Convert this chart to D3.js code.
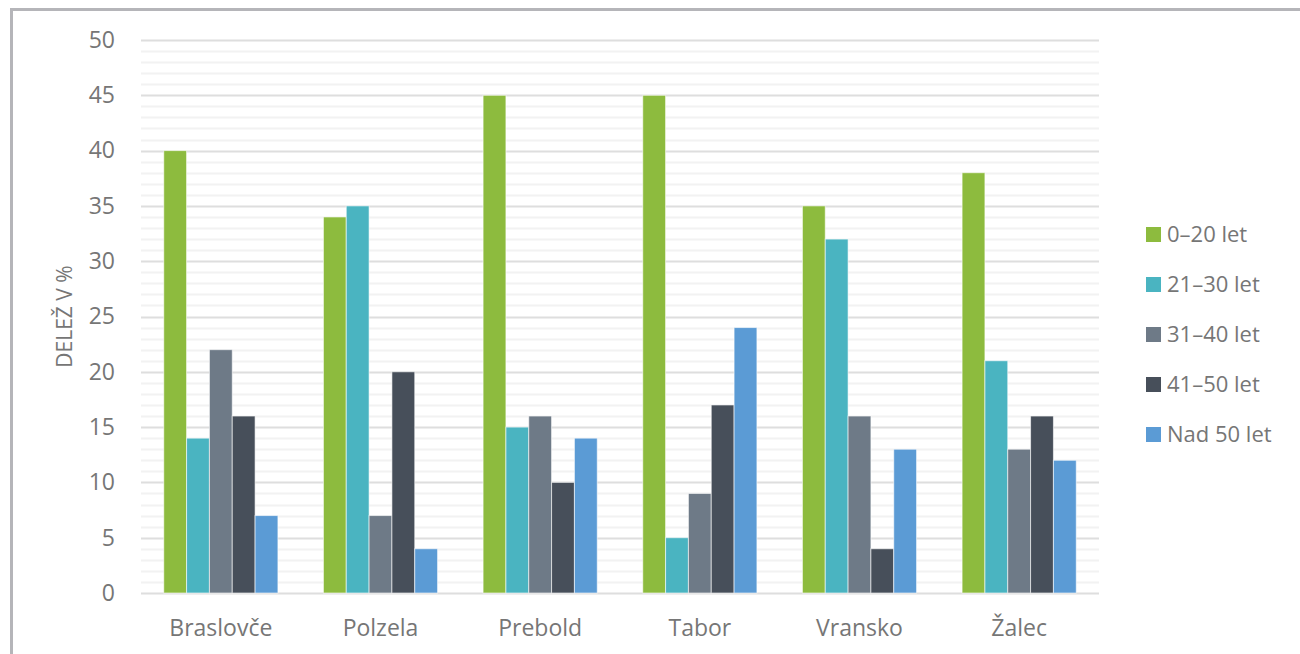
<!DOCTYPE html>
<html>
<head>
<meta charset="utf-8">
<script src="https://cdn.jsdelivr.net/npm/d3@7"></script>
<style>
  body { margin: 0; background: #fff; }
  svg text { font-family: "Open Sans", "Noto Sans", sans-serif; fill: #767676; }
</style>
</head>
<body>
<div id="chart"></div>
<script>
// Data
var towns = ["Braslovče", "Polzela", "Prebold", "Tabor", "Vransko", "Žalec"];
var ageGroups = ["0–20 let", "21–30 let", "31–40 let", "41–50 let", "Nad 50 let"];
var age0_20 = [40, 34, 45, 45, 35, 38];
var age21_30 = [14, 35, 15, 5, 32, 21];
var age31_40 = [22, 7, 16, 9, 16, 13];
var age41_50 = [16, 20, 10, 17, 4, 16];
var ageOver50 = [7, 4, 14, 24, 13, 12];
var yTicks = [0, 5, 10, 15, 20, 25, 30, 35, 40, 45, 50];

var series = [age0_20, age21_30, age31_40, age41_50, ageOver50];
var colors = ["#8dbb3e", "#4ab4c1", "#6e7a87", "#474f5a", "#5b9bd5"];

var W = 1300, H = 654;
var margin = { top: 40, right: 201, bottom: 61, left: 141 },
  width = W - margin.left - margin.right,
  height = H - margin.top - margin.bottom;

var svg = d3.select("#chart").append("svg")
  .attr("width", W)
  .attr("height", H);

// outer frame (only top and left visible in the picture)
svg.append("rect")
  .attr("x", 11.5).attr("y", 9.5)
  .attr("width", W + 20).attr("height", H + 20)
  .attr("fill", "none")
  .attr("stroke", "#b5b5b9")
  .attr("stroke-width", 3);

var g = svg.append("g")
  .attr("transform", "translate(" + margin.left + "," + margin.top + ")");

var y = d3.scaleLinear().domain([0, 50]).range([height, 0]);
var x0 = d3.scaleBand().domain(towns).range([0, width]).paddingInner(0).paddingOuter(0);
var innerW = x0.bandwidth() * 0.715;
var x1 = d3.scaleBand().domain(d3.range(ageGroups.length))
  .range([(x0.bandwidth() - innerW) / 2, (x0.bandwidth() + innerW) / 2]);

// minor gridlines
g.append("g").selectAll("line")
  .data(d3.range(0, 51).filter(function (v) { return v % 5 !== 0; }))
  .enter().append("line")
  .attr("x1", 0).attr("x2", width)
  .attr("y1", function (d) { return Math.round(y(d)) + 0.5; })
  .attr("y2", function (d) { return Math.round(y(d)) + 0.5; })
  .attr("stroke", "#f2f2f2")
  .attr("stroke-width", 2);

// major gridlines
g.append("g").selectAll("line")
  .data(yTicks)
  .enter().append("line")
  .attr("x1", 0).attr("x2", width)
  .attr("y1", function (d) { return Math.round(y(d)) + 0.5; })
  .attr("y2", function (d) { return Math.round(y(d)) + 0.5; })
  .attr("stroke", "#dedede")
  .attr("stroke-width", 2);

// y axis labels
var yAxis = g.append("g")
  .call(d3.axisLeft(y).tickValues(yTicks).tickSize(0).tickPadding(26));
yAxis.select(".domain").remove();
yAxis.selectAll("text")
  .style("font-size", "23px")
  .attr("fill", "#767676");

// x axis labels
var xAxis = g.append("g")
  .attr("transform", "translate(0," + height + ")")
  .call(d3.axisBottom(x0).tickSize(0).tickPadding(27));
xAxis.select(".domain").remove();
xAxis.selectAll("text")
  .style("font-size", "23px")
  .attr("fill", "#767676");

// bars
var groups = g.append("g").selectAll("g")
  .data(towns)
  .enter().append("g")
  .attr("transform", function (d) { return "translate(" + x0(d) + ",0)"; });

groups.selectAll("rect")
  .data(function (d, i) {
    return series.map(function (s, k) { return { k: k, v: s[i] }; });
  })
  .enter().append("rect")
  .attr("x", function (d) { return x1(d.k); })
  .attr("y", function (d) { return y(d.v); })
  .attr("width", x1.bandwidth())
  .attr("height", function (d) { return height - y(d.v); })
  .attr("fill", function (d) { return colors[d.k]; })
  .attr("stroke", "#ffffff")
  .attr("stroke-opacity", 0.6)
  .attr("stroke-width", 1);

// y title
svg.append("text")
  .attr("transform", "translate(72," + (margin.top + height / 2) + ") rotate(-90)")
  .attr("text-anchor", "middle")
  .style("font-size", "21px")
  .text("DELEŽ V %");

// legend
var legend = svg.append("g")
  .attr("transform", "translate(1146,234)");

var items = legend.selectAll("g")
  .data(ageGroups)
  .enter().append("g")
  .attr("transform", function (d, i) { return "translate(0," + i * 50 + ")"; });

items.append("rect")
  .attr("x", 0).attr("y", -7)
  .attr("width", 15).attr("height", 15)
  .attr("fill", function (d, i) { return colors[i]; });

items.append("text")
  .attr("x", 21).attr("y", 0)
  .attr("dy", "0.35em")
  .style("font-size", "22px")
  .text(function (d) { return d; });
</script>
</body>
</html>
